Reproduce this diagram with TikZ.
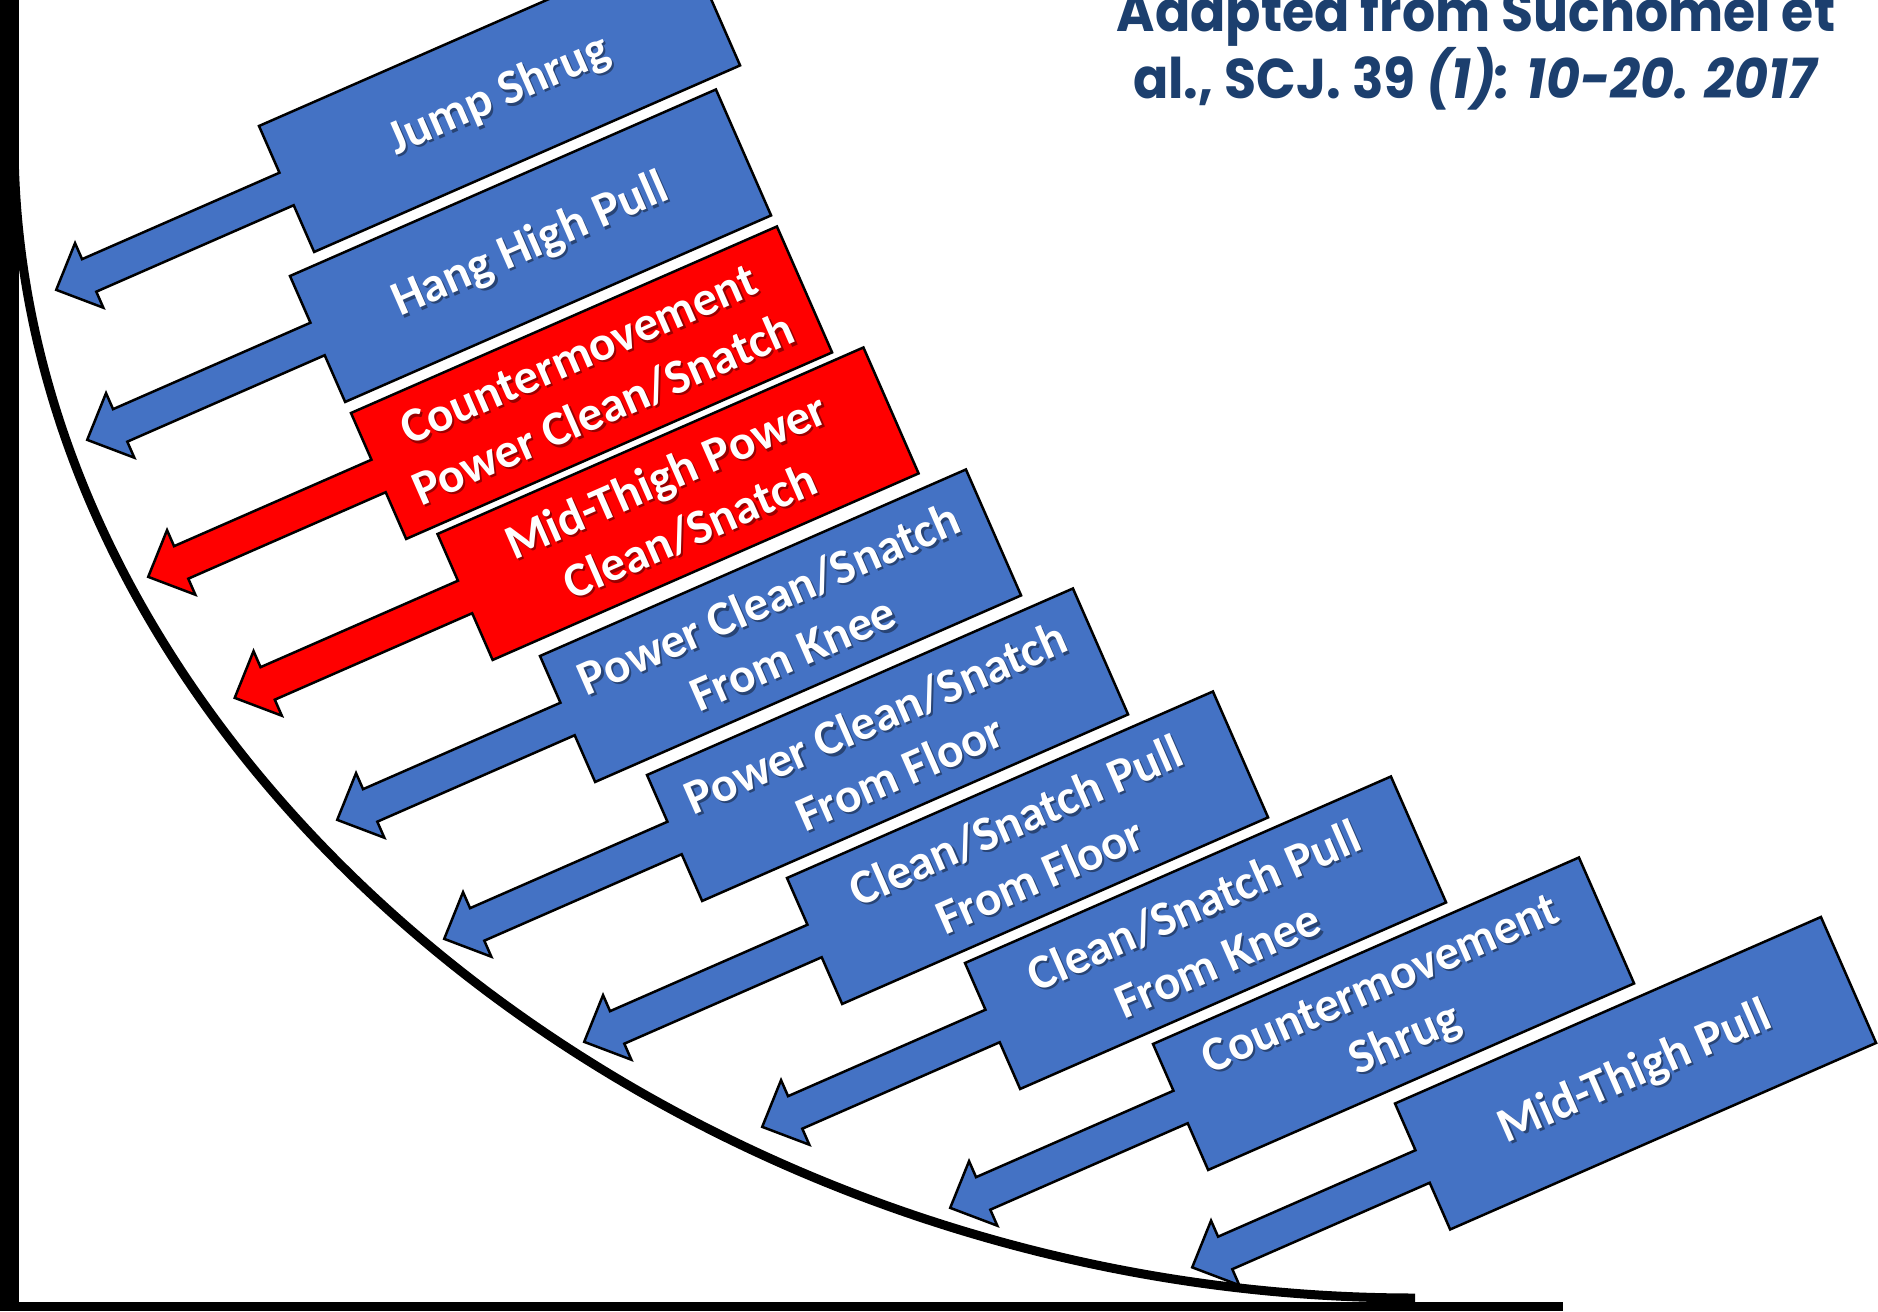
\documentclass[tikz,border=0pt]{standalone}
\usepackage{fontspec}
\newfontfamily\labelfont{Carlito}
\newfontfamily\titlefont[FakeStretch=0.93]{Poppins}
\definecolor{boxblue}{RGB}{68,114,196}
\definecolor{boxred}{RGB}{255,0,0}
\definecolor{titleblue}{RGB}{28,63,110}
\tikzset{
  boxshape/.style={draw=black, line width=2.5pt, line join=miter},
  lbl/.style={text=white, align=center, inner sep=0pt, transform shape,
    font=\labelfont\bfseries\fontsize{49}{60}\selectfont},
  lblshadow/.style={text=black, opacity=0.4, align=center, inner sep=0pt, transform shape,
    font=\labelfont\bfseries\fontsize{49}{60}\selectfont},
  axisfill/.style={fill=black},
  curveline/.style={draw=black, line width=9pt},
  titletext/.style={text=titleblue, align=center, inner sep=0pt,
    font=\titlefont\bfseries\fontsize{56}{65}\selectfont}
}
\newcommand\calloutbox[5]{%
  \begin{scope}[shift={(#2,#3)}, rotate=23.65]
    \draw[boxshape, fill=#4] (0,0) -- (465,0) -- (465,137.5) -- (0,137.5) -- (0,86.5)
      -- (-215.5,86.5) -- (-215.5,104) -- (-251.5,68.75) -- (-215.5,33.5)
      -- (-215.5,51) -- (0,51) -- cycle;
    \node[lblshadow] (#1s) at (233.6,71.6) {#5};
    \node[lbl] (#1) at (232.5,68.75) {#5};
  \end{scope}}
\begin{document}
\begin{tikzpicture}[x=1pt,y=-1pt]
  \useasboundingbox (0,0) rectangle (1878,1311);
  \fill[white] (0,0) rectangle (1878,1311);
  % curve
  \coordinate (cstart) at (14,140);
  \coordinate (cend) at (1415,1298);
  \draw[curveline] (cstart) .. controls (14,757) and (669.7,1298) .. (cend);
  % axes
  \fill[axisfill] (0,0) rectangle (19,1311);
  \fill[axisfill] (0,1302) rectangle (1563,1311);
  % callouts
  \calloutbox{jump}{259}{126}{boxblue}{Jump Shrug}
  \calloutbox{hang}{290}{276}{boxblue}{Hang High Pull}
  \calloutbox{cmpc}{351}{413}{boxred}{Countermovement\\Power Clean/Snatch}
  \calloutbox{mtpc}{437.5}{534}{boxred}{Mid-Thigh Power\\Clean/Snatch}
  \calloutbox{pcknee}{540}{656}{boxblue}{Power Clean/Snatch\\From Knee}
  \calloutbox{pcfloor}{647}{775}{boxblue}{Power Clean/Snatch\\From Floor}
  \calloutbox{cpfloor}{787}{878}{boxblue}{Clean/Snatch Pull\\From Floor}
  \calloutbox{cpknee}{965}{963}{boxblue}{Clean/Snatch Pull\\From Knee}
  \calloutbox{cmshrug}{1153}{1044}{boxblue}{Countermovement\\Shrug}
  \calloutbox{mtpull}{1395}{1103.5}{boxblue}{Mid-Thigh Pull}
  % title
  \node[titletext, anchor=base] (title) at (1476,99)
    {Adapted from Suchomel et\\al., SCJ. 39 \textit{(1): 10-20. 2017}};
\end{tikzpicture}
\end{document}
